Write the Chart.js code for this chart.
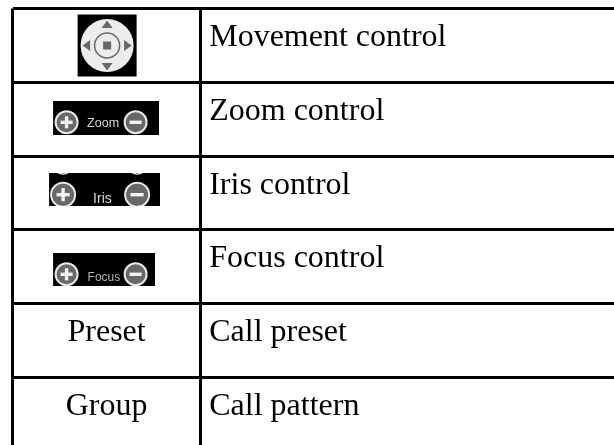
<!DOCTYPE html>
<html>
<head>
<meta charset="utf-8">
<script src="https://cdn.jsdelivr.net/npm/chart.js@4"></script>
<style>
  html, body { margin: 0; padding: 0; background: #fff; }
  canvas { display: block; }
</style>
</head>
<body>
<canvas id="chart" width="614" height="445"></canvas>
<script>
const rows = [0, 1, 2, 3, 4, 5];
const leftLabels = ['', '', '', '', 'Preset', 'Group'];
const rightLabels = ['Movement control', 'Zoom control', 'Iris control', 'Focus control', 'Call preset', 'Call pattern'];
const icons = ['pad', 'zoom', 'iris', 'focus', '', ''];
const iconLabels = { zoom: 'Zoom', iris: 'Iris', focus: 'Focus' };

const grey = '#686868';
const rim = '#e8e8e8';

function tri(c, x, y, dx, dy) {
    // triangle pointing along (dx, dy)
    c.beginPath();
    c.moveTo(x + dx * 4.5, y + dy * 4.5);
    c.lineTo(x - dx * 3 - dy * 5.5, y - dy * 3 - dx * 5.5);
    c.lineTo(x - dx * 3 + dy * 5.5, y - dy * 3 + dx * 5.5);
    c.closePath();
    c.fill();
}

function drawPad(c, cx, top) {
    const cy = top + 37;
    c.fillStyle = '#000';
    c.fillRect(cx - 29, top + 6, 59, 62);
    c.fillStyle = '#ececec';
    c.beginPath();
    c.arc(cx + 0.5, cy, 26.5, 0, Math.PI * 2);
    c.fill();
    c.fillStyle = grey;
    tri(c, cx + 0.5, cy - 20.5, 0, -1);
    tri(c, cx + 0.5, cy + 20.5, 0, 1);
    tri(c, cx - 19.5, cy, -1, 0);
    tri(c, cx + 20.5, cy, 1, 0);
    c.fillRect(cx - 3.5, cy - 4, 8, 8);
    c.strokeStyle = grey;
    c.lineWidth = 1.5;
    c.beginPath();
    c.arc(cx + 0.5, cy, 12.5, 0, Math.PI * 2);
    c.stroke();
}

function drawButton(c, x, y, r, plus) {
    c.fillStyle = grey;
    c.strokeStyle = rim;
    c.lineWidth = 2;
    c.beginPath();
    c.arc(x, y, r, 0, Math.PI * 2);
    c.fill();
    c.stroke();
    c.fillStyle = '#f2f2f2';
    c.fillRect(x - r * 0.55, y - 1.7, r * 1.1, 3.4);
    if (plus) c.fillRect(x - 1.7, y - r * 0.55, 3.4, r * 1.1);
}

function drawBar(c, name, cx, top) {
    const box = {
        zoom: { l: -53.5, w: 106, t: 18.7, h: 34, by: 40, r: 11, bl: -40, br: 29, tx: -19.5, ty: 45, fs: 12.5, col: '#d8d8d8' },
        iris: { l: -57.5, w: 111, t: 16.9, h: 33, by: 38.6, r: 12, bl: -43.5, br: 30.5, tx: -13.5, ty: 46.6, fs: 14, col: '#d8d8d8' },
        focus: { l: -53.5, w: 102, t: 23.1, h: 33, by: 44.4, r: 11, bl: -40, br: 29, tx: -19, ty: 50.8, fs: 12, col: '#b4b4b4' }
    }[name];
    c.save();
    c.beginPath();
    c.rect(cx + box.l, top + box.t, box.w, box.h);
    c.clip();
    c.fillStyle = '#000';
    c.fillRect(cx + box.l, top + box.t, box.w, box.h);
    if (name === 'iris') {
        // bottoms of the buttons of the row above, cut by the crop
        c.strokeStyle = rim;
        c.lineWidth = 1.5;
        [box.bl, box.br].forEach(dx => {
            c.beginPath();
            c.arc(cx + dx, top + box.t - 9, 10, 0, Math.PI * 2);
            c.stroke();
        });
    }
    drawButton(c, cx + box.bl, top + box.by, box.r, true);
    drawButton(c, cx + box.br, top + box.by, box.r, false);
    c.fillStyle = box.col;
    c.font = box.fs + 'px "Liberation Sans"';
    c.textAlign = 'left';
    c.textBaseline = 'alphabetic';
    c.fillText(iconLabels[name], cx + box.tx, top + box.ty);
    c.restore();
}

// table contents, placed from the chart's own scales
const tableCells = {
    id: 'tableCells',
    afterDraw(chart) {
        const c = chart.ctx;
        const x = chart.scales.x;
        const y = chart.scales.y;
        const leftMid = x.getPixelForValue(0.5);
        const rightStart = x.getPixelForValue(1) + 8.5;
        c.save();
        c.textBaseline = 'alphabetic';
        rows.forEach(i => {
            const top = y.getPixelForValue(i);
            c.fillStyle = '#000';
            c.font = '32px "Liberation Serif"';
            c.textAlign = 'left';
            c.fillText(rightLabels[i], rightStart, top + 37.5);
            c.textAlign = 'center';
            if (leftLabels[i]) c.fillText(leftLabels[i], leftMid, top + 37.5);
            if (icons[i] === 'pad') drawPad(c, leftMid, top);
            else if (icons[i]) drawBar(c, icons[i], leftMid, top);
        });
        c.restore();
    }
};

new Chart(document.querySelector('#chart').getContext('2d'), {
    type: 'scatter',
    data: {
        datasets: [{
            data: rows.map(r => ({ x: 0.5, y: r + 0.5 })),
            pointRadius: 0
        }]
    },
    options: {
        responsive: false,
        animation: false,
        layout: { padding: { left: 12.5, top: 8.5, right: 0, bottom: 0 } },
        plugins: { legend: { display: false }, tooltip: { enabled: false } },
        scales: {
            x: {
                type: 'linear',
                min: 0,
                max: 3.196,
                afterBuildTicks: axis => { axis.ticks = [{ value: 0 }, { value: 1 }]; },
                grid: { color: '#000', lineWidth: 3, drawTicks: false },
                border: { display: false, color: '#000', width: 3 },
                ticks: { display: false }
            },
            y: {
                type: 'linear',
                reverse: true,
                min: 0,
                max: 5.915,
                afterBuildTicks: axis => { axis.ticks = rows.map(r => ({ value: r })); },
                grid: { color: '#000', lineWidth: 3, drawTicks: false },
                border: { display: false, color: '#000', width: 3 },
                ticks: { display: false }
            }
        }
    },
    plugins: [tableCells]
});
</script>
</body>
</html>
